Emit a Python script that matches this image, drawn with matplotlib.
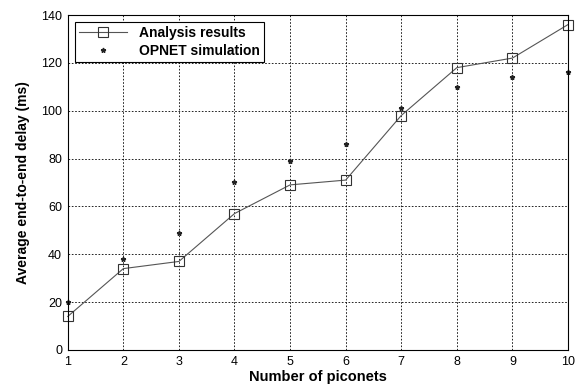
import matplotlib.pyplot as plt

plt.rcParams['font.family'] = ['Liberation Sans', 'DejaVu Sans']

piconets = [1, 2, 3, 4, 5, 6, 7, 8, 9, 10]
analysis = [14, 34, 37, 57, 69, 71, 98, 118, 122, 136]
opnet = [20, 38, 49, 70, 79, 86, 101, 110, 114, 116]

fig = plt.figure(figsize=(5.79, 3.85), dpi=100)
ax = fig.add_axes([0.117, 0.091, 0.864, 0.870])

ax.plot(piconets, analysis, color='#555555', lw=0.8, marker='s', ms=7,
        mfc='none', mec='#333333', mew=0.8, label='Analysis results', clip_on=False)
ax.plot(piconets, opnet, ls='none', marker='*', ms=3.5, color='#222222',
        label='OPNET simulation', clip_on=False)

ax.set_xlim(1, 10)
ax.set_ylim(0, 140)
ax.set_xticks(piconets)
ax.set_yticks(range(0, 141, 20))
ax.grid(True, color='black', ls=(0, (2, 2)), lw=0.6)
ax.tick_params(direction='in', length=0, labelsize=9, pad=4)
for s in ax.spines.values():
    s.set_linewidth(0.8)

ax.set_xlabel('Number of piconets', fontsize=10.5, fontweight='bold', labelpad=2)
ax.set_ylabel('Average end-to-end delay (ms)', fontsize=10, fontweight='bold', labelpad=8)

leg = ax.legend(loc='upper left', fontsize=10, fancybox=False, edgecolor='black',
                framealpha=1, borderaxespad=0.5, handlelength=3.5, borderpad=0.3,
                labelspacing=0.3)
leg.get_frame().set_linewidth(0.8)
for t in leg.get_texts():
    t.set_fontweight('bold')

fig.savefig('out.png', dpi=100)
